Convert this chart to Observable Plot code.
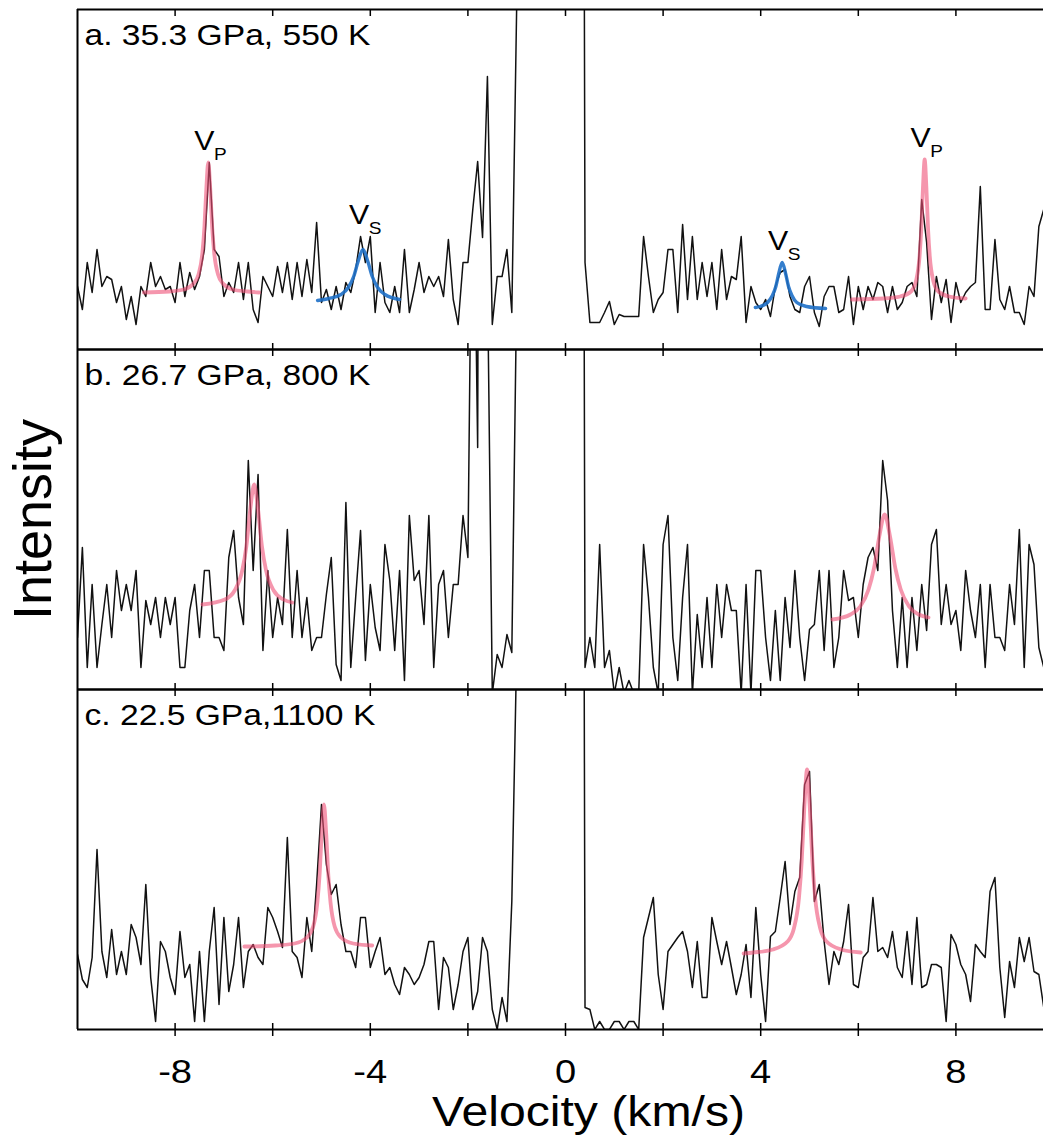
<!DOCTYPE html>
<html>
<head>
<meta charset="utf-8">
<script src="https://cdn.jsdelivr.net/npm/d3@7"></script>
<script src="https://cdn.jsdelivr.net/npm/@observablehq/plot@0.6"></script>
<style>
  html, body { margin: 0; padding: 0; background: #fff; }
  #chart { width: 1043px; height: 1139px; overflow: hidden; }
</style>
</head>
<body>
<div id="chart"></div>
<script>
// ---------- data ----------
const velocity = [-10,-9.9,-9.8,-9.7,-9.6,-9.5,-9.4,-9.3,-9.2,-9.1,-9,-8.9,-8.8,-8.7,-8.6,-8.5,-8.4,-8.3,-8.2,-8.1,-8,-7.9,-7.8,-7.7,-7.6,-7.5,-7.4,-7.3,-7.2,-7.1,-7,-6.9,-6.8,-6.7,-6.6,-6.5,-6.4,-6.3,-6.2,-6.1,-6,-5.9,-5.8,-5.7,-5.6,-5.5,-5.4,-5.3,-5.2,-5.1,-5,-4.9,-4.8,-4.7,-4.6,-4.5,-4.4,-4.3,-4.2,-4.1,-4,-3.9,-3.8,-3.7,-3.6,-3.5,-3.4,-3.3,-3.2,-3.1,-3,-2.9,-2.8,-2.7,-2.6,-2.5,-2.4,-2.3,-2.2,-2.1,-2,-1.9,-1.8,-1.7,-1.6,-1.5,-1.4,-1.3,-1.2,-1.1,-1,-0.9,-0.8,-0.7,-0.6,-0.5,-0.4,-0.3,-0.2,-0.1,0,0.1,0.2,0.3,0.4,0.5,0.6,0.7,0.8,0.9,1,1.1,1.2,1.3,1.4,1.5,1.6,1.7,1.8,1.9,2,2.1,2.2,2.3,2.4,2.5,2.6,2.7,2.8,2.9,3,3.1,3.2,3.3,3.4,3.5,3.6,3.7,3.8,3.9,4,4.1,4.2,4.3,4.4,4.5,4.6,4.7,4.8,4.9,5,5.1,5.2,5.3,5.4,5.5,5.6,5.7,5.8,5.9,6,6.1,6.2,6.3,6.4,6.5,6.6,6.7,6.8,6.9,7,7.1,7.2,7.3,7.4,7.5,7.6,7.7,7.8,7.9,8,8.1,8.2,8.3,8.4,8.5,8.6,8.7,8.8,8.9,9,9.1,9.2,9.3,9.4,9.5,9.6,9.7,9.8];

// panel a: 35.3 GPa, 550 K  (central Rayleigh line is off scale)
const intensityA = [
  63,40,87,57,100,63,73,70,47,63,
  30,53,25,63,53,87,63,73,60,63,
  47,87,53,77,60,73,100,187,100,93,
  53,67,57,87,50,87,40,27,73,63,
  53,83,57,87,50,87,53,90,57,127,
  47,60,40,63,40,67,57,80,113,87,
  113,37,87,47,37,63,37,100,37,60,
  87,57,73,63,73,53,110,50,25,87,
  87,140,188,112,273,25,73,73,100,37,
  345,2000,2000,2000,2000,2000,2000,2000,2000,2000,
  2000,2000,2000,2000,87,27,27,27,37,48,
  25,35,33,33,33,33,113,73,37,50,
  57,100,100,37,125,50,113,50,87,53,
  87,40,100,50,73,70,113,27,63,47,
  40,50,33,63,77,80,53,40,37,63,
  73,37,23,53,63,63,37,40,73,25,
  63,40,63,50,67,63,37,63,40,47,
  63,67,53,150,107,30,73,47,70,27,
  67,47,57,63,67,163,40,40,110,50,
  40,63,37,37,25,63,53,123,140
];

// panel b: 26.7 GPa, 800 K
const intensityB = [
  52,142,22,105,22,65,105,52,119,79,
  105,79,119,22,89,65,92,52,92,65,
  92,22,22,79,105,52,119,119,52,52,
  39,132,159,92,65,229,119,215,39,119,
  52,92,65,160,52,119,52,92,39,52,
  52,95,132,25,9,187,22,92,159,29,
  105,62,39,145,109,39,119,9,174,109,
  119,65,174,22,105,119,52,105,105,174,
  132,600,242,2000,420,-4,35,22,55,37,
  400,2000,2000,2000,2000,2000,2000,2000,2000,2000,
  2000,2000,2000,2000,22,52,22,145,22,39,
  -4,22,-4,9,-4,-4,145,92,22,-4,
  145,174,52,9,92,145,-4,75,22,92,
  22,105,52,105,79,79,-4,105,-4,119,
  119,52,9,79,9,92,42,119,52,9,
  60,65,119,39,119,22,52,119,89,92,
  52,105,132,142,119,229,189,79,22,92,
  22,92,39,105,59,145,160,65,105,65,
  79,39,119,79,52,105,22,105,52,52,
  39,105,65,160,22,145,125,42,22
];

// panel c: 22.5 GPa, 1100 K
const intensityC = [
  75,50,42,72,180,78,52,100,55,78,
  55,105,92,65,145,52,8,88,78,52,
  35,98,52,65,8,78,8,78,122,25,
  112,38,65,112,42,78,85,72,65,122,
  112,98,82,192,78,72,52,112,78,145,
  225,165,135,145,105,78,78,62,112,112,
  62,78,92,55,62,45,35,62,55,45,
  52,65,88,88,20,72,62,20,45,78,
  92,20,38,92,78,20,0,32,8,128,
  380,2000,2000,2000,2000,2000,2000,2000,2000,2000,
  2000,2000,2000,2000,22,20,0,8,0,0,
  8,8,0,8,8,0,92,112,132,55,
  20,78,85,92,98,78,42,88,32,32,
  112,88,65,88,62,35,55,85,32,122,
  55,8,93,98,132,168,105,138,152,245,
  258,128,145,88,45,78,65,88,125,45,
  42,72,78,132,78,82,72,98,62,52,
  98,45,112,42,45,65,65,62,8,95,
  85,65,55,28,85,78,72,138,152,62,
  12,68,42,92,68,92,58,55,22
];

// Lorentzian fits
const aVpLeftX  = [-8.64,-8.12,-7.82,-7.62,-7.52,-7.44,-7.40,-7.36,-7.32,-7.28,-7.24,-7.20,-7.12,-7.02,-6.82,-6.52,-6.28];
const aVpLeftY  = [57,58,60,66,75,97,122,161,187,161,122,97,75,66,60,58,57];
const aVsLeftX  = [-5.08,-4.85,-4.60,-4.45,-4.34,-4.25,-4.15,-4.05,-3.96,-3.85,-3.70,-3.40];
const aVsLeftY  = [49,51,55,62,73,88,100,88,73,62,55,50];
const aVsRightX = [3.89,3.99,4.14,4.24,4.31,4.37,4.44,4.51,4.57,4.64,4.74,4.94,5.33];
const aVsRightY = [42,43,47,54,63,76,87,76,63,54,47,43,41];
const aVpRightX = [5.87,6.52,6.86,7.08,7.185,7.255,7.29,7.325,7.36,7.395,7.43,7.465,7.535,7.64,7.86,8.20];
const aVpRightY = [50,51,53,58,69,93,120,162,190,162,120,93,69,58,53,51];
const bLeftX  = [-7.44,-6.98,-6.78,-6.62,-6.54,-6.46,-6.38,-6.30,-6.22,-6.14,-5.98,-5.78,-5.60];
const bLeftY  = [85,90,99,120,143,180,205,180,143,120,99,90,87];
const bRightX = [5.47,5.84,6.04,6.21,6.32,6.43,6.54,6.65,6.76,6.87,7.04,7.24,7.44];
const bRightY = [70,75,83,100,121,153,175,153,121,100,83,75,72];
const cLeftX  = [-6.58,-5.95,-5.55,-5.30,-5.17,-5.085,-5.04,-4.995,-4.95,-4.905,-4.86,-4.815,-4.73,-4.60,-4.35,-3.96];
const cLeftY  = [83,84,86,92,103,127,154,197,225,197,154,127,103,92,86,84];
const cRightX = [3.65,3.85,4.25,4.55,4.68,4.785,4.84,4.895,4.95,5.005,5.06,5.115,5.22,5.35,5.65,6.05];
const cRightY = [76,77,80,88,101,132,168,223,260,223,168,132,101,88,80,77];

const panels = ["a", "b", "c"];
const panelLabels = ["a. 35.3 GPa, 550 K", "b. 26.7 GPa, 800 K", "c. 22.5 GPa,1100 K"];
const xTicks = [-8, -6, -4, -2, 0, 2, 4, 6, 8];
const xLabeledTicks = [-8, -4, 0, 4, 8];
const xTickLabels = ["-8", "-4", "0", "4", "8"];
const xTitle = "Velocity (km/s)";
const yTitle = "Intensity";

// ---------- tables built from the arrays ----------
const spectra = [];
[intensityA, intensityB, intensityC].forEach((arr, k) =>
  arr.forEach((I, i) => spectra.push({panel: panels[k], v: velocity[i], I})));

const rows = (panel, id, xs, ys) => xs.map((v, i) => ({panel, id, v, I: ys[i]}));
const pinkFits = [
  ...rows("a", "aVpL", aVpLeftX, aVpLeftY),
  ...rows("a", "aVpR", aVpRightX, aVpRightY),
  ...rows("b", "bL", bLeftX, bLeftY),
  ...rows("b", "bR", bRightX, bRightY),
  ...rows("c", "cL", cLeftX, cLeftY),
  ...rows("c", "cR", cRightX, cRightY)
];
const blueFits = [
  ...rows("a", "aVsL", aVsLeftX, aVsLeftY),
  ...rows("a", "aVsR", aVsRightX, aVsRightY)
];
// label each fitted peak just above the highest of fit and nearby data
const peak = (xs, ys, sub) => {
  const k = d3.maxIndex(ys), v = xs[k];
  const near = velocity.map((x, i) => Math.abs(x - v) <= 0.3 ? intensityA[i] : -Infinity);
  return {panel: "a", v, I: Math.max(ys[k], d3.max(near)), sub};
};
const peakLabels = [
  peak(aVpLeftX, aVpLeftY, "P"),
  peak(aVsLeftX, aVsLeftY, "S"),
  peak(aVsRightX, aVsRightY, "S"),
  peak(aVpRightX, aVpRightY, "P")
];

const font = "'Liberation Sans', Arial, Helvetica, sans-serif";

const chart = Plot.plot({
  width: 1043,
  height: 1139,
  marginLeft: 77,
  marginRight: 0,
  marginTop: 8,
  marginBottom: 109,
  x: {domain: [-10, 9.795]},
  y: {domain: [0, 340], axis: null},
  fy: {domain: panels, padding: 0, axis: null},
  style: {fontFamily: font, background: "#fff", color: "#000", overflow: "visible"},
  marks: [
    Plot.line(spectra, {x: "v", y: "I", fy: "panel", stroke: "#111", strokeWidth: 1.5, clip: true}),
    Plot.line(pinkFits, {x: "v", y: "I", fy: "panel", z: "id", stroke: "rgb(238,80,118)", strokeOpacity: 0.6, strokeWidth: 3.8, curve: "monotone-x", clip: true}),
    Plot.line(blueFits, {x: "v", y: "I", fy: "panel", z: "id", stroke: "rgb(30,112,200)", strokeOpacity: 0.9, strokeWidth: 3.4, curve: "monotone-x", clip: true}),
    // panel frames (left, top, bottom)
    Plot.ruleX([-10], {stroke: "#000", strokeWidth: 2}),
    Plot.ruleY([0, 340], {stroke: "#000", strokeWidth: 2}),
    // inward ticks on every panel
    Plot.axisX({ticks: xTicks, anchor: "bottom", tickSize: -6, tickFormat: () => "", facetAnchor: null, label: null, strokeWidth: 1.5}),
    Plot.axisX({ticks: xTicks, anchor: "top", tickSize: -6, tickFormat: () => "", facetAnchor: null, label: null, strokeWidth: 1.5}),
    // outer axis with labels
    Plot.axisX({ticks: xTicks, anchor: "bottom", tickSize: 7, tickPadding: 22, fontSize: 34, strokeWidth: 1.5,
      tickFormat: d => { const k = xLabeledTicks.indexOf(d); return k < 0 ? "" : xTickLabels[k]; }, label: null}),
    Plot.text([xTitle], {fy: ["c"], frameAnchor: "bottom", text: d => d, dx: 28, dy: 66, lineAnchor: "top", fontSize: 43}),
    Plot.text([yTitle], {fy: ["b"], frameAnchor: "left", textAnchor: "middle", text: d => d, dx: -44, rotate: -90, fontSize: 54}),
    // panel labels
    Plot.text(panelLabels, {fy: panels, frameAnchor: "top-left", text: d => d, dx: 7, dy: 14, lineAnchor: "top", fontSize: 30}),
    // V_P / V_S annotations
    Plot.text(peakLabels, {x: "v", y: "I", fy: "panel", text: () => "V", dx: -4, dy: -13, lineAnchor: "bottom", fontSize: 27}),
    Plot.text(peakLabels, {x: "v", y: "I", fy: "panel", text: "sub", dx: 12, dy: -3, lineAnchor: "bottom", fontSize: 17})
  ]
});

document.getElementById("chart").appendChild(chart);

// the reference lettering is a little wider than the font's natural proportions
chart.querySelectorAll("text").forEach(t => {
  if (t.textContent === yTitle || !t.textContent) return;
  const len = t.getComputedTextLength();
  if (len > 0) {
    t.setAttribute("textLength", (len * 1.12).toFixed(1));
    t.setAttribute("lengthAdjust", "spacingAndGlyphs");
  }
});
</script>
</body>
</html>
